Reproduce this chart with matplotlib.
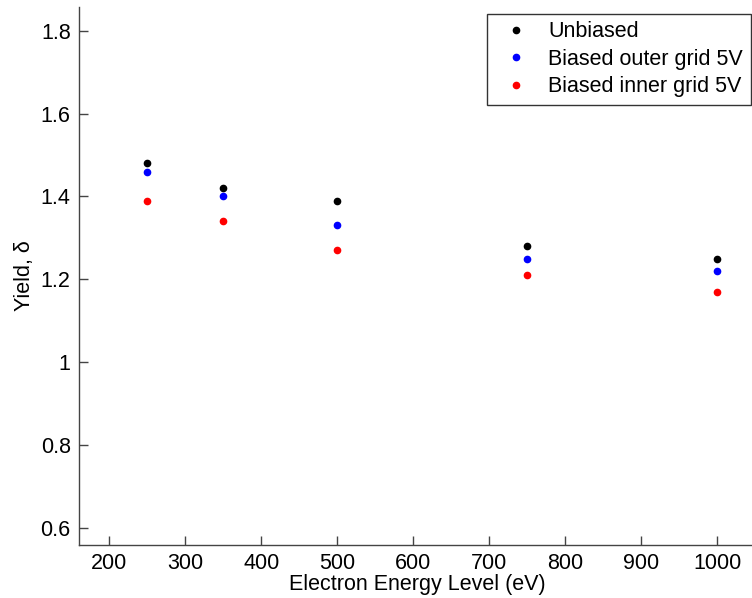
import matplotlib.pyplot as plt
from matplotlib.ticker import FuncFormatter

plt.rcParams['font.family'] = ['Liberation Sans', 'DejaVu Sans']

energy = [250, 350, 500, 750, 1000]
unbiased = [1.48, 1.42, 1.39, 1.28, 1.25]
outer_5v = [1.46, 1.40, 1.33, 1.25, 1.22]
inner_5v = [1.39, 1.34, 1.27, 1.21, 1.17]

fig = plt.figure(figsize=(7.52, 5.98), dpi=100)
ax = fig.add_axes([0.105, 0.0886, 0.899, 0.9])

ax.plot(energy, unbiased, '.', color='black', markersize=9, label='Unbiased')
ax.plot(energy, outer_5v, '.', color='blue', markersize=9, label='Biased outer grid 5V')
ax.plot(energy, inner_5v, '.', color='red', markersize=9, label='Biased inner grid 5V')

ax.set_xlim(160, 1050)
ax.set_ylim(0.558, 1.858)
ax.set_xticks(range(200, 1001, 100))
ax.set_yticks([0.6, 0.8, 1.0, 1.2, 1.4, 1.6, 1.8])
ax.yaxis.set_major_formatter(FuncFormatter(lambda v, p: '%g' % round(v, 2)))

for side in ['top', 'right']:
    ax.spines[side].set_visible(False)
for side in ['left', 'bottom']:
    ax.spines[side].set_color('#444444')
    ax.spines[side].set_linewidth(1.0)
ax.tick_params(direction='in', length=6.5, width=1, color='#444444', labelsize=15.5, pad=6)

ax.set_xlabel('Electron Energy Level (eV)', fontsize=15.5, labelpad=0)
ax.set_ylabel('Yield, δ', fontsize=15.5)
ax.yaxis.set_label_coords(-0.065, 0.5)

leg = ax.legend(loc='upper left', bbox_to_anchor=(0.6036, 0.987), fontsize=15.5, frameon=True,
                fancybox=False, edgecolor='black', borderpad=0.35, labelspacing=0.3,
                handletextpad=0.5, handlelength=2.0, borderaxespad=0)
leg.get_frame().set_linewidth(1.0)

fig.savefig('out.png', dpi=100)
